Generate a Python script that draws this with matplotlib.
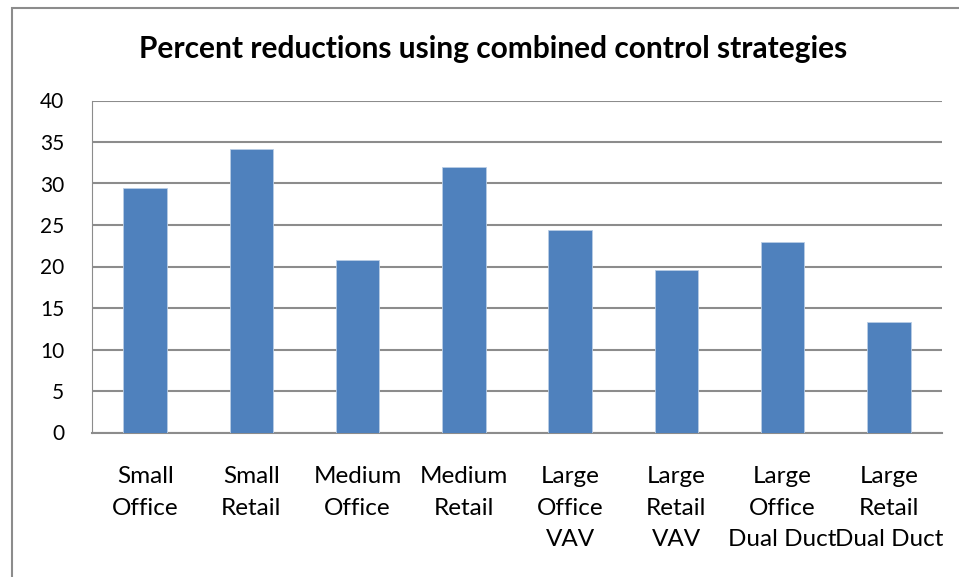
import matplotlib.pyplot as plt
from matplotlib.patches import Rectangle

# Data
categories = ["Small\nOffice", "Small\nRetail", "Medium\nOffice", "Medium\nRetail",
              "Large\nOffice\nVAV", "Large\nRetail\nVAV", "Large\nOffice\nDual Duct",
              "Large\nRetail\nDual Duct"]
reductions = [29.5, 34.1, 20.8, 32.0, 24.4, 19.6, 23.0, 13.3]
y_ticks = [0, 5, 10, 15, 20, 25, 30, 35, 40]

plt.rcParams['font.family'] = ['Lato', 'DejaVu Sans']

fig = plt.figure(figsize=(9.59, 5.77), dpi=100)
ax = fig.add_axes([92 / 959, 1 - 432.5 / 577, 850 / 959, 332 / 577])

# Outer chart border (only top and left visible in the crop)
fig.patches.append(Rectangle((12 / 959, -0.1), 1.2, 1 - 8 / 577 + 0.1,
                             transform=fig.transFigure, fill=False,
                             edgecolor='#8c8c8c', linewidth=1.5))

x = range(len(categories))
ax.bar(x, reductions, width=0.41, color='#4F81BD', edgecolor='#b9cde5',
       linewidth=0.6, zorder=3)

ax.set_xlim(-0.5, len(categories) - 0.5)
ax.set_ylim(0, 40)
ax.set_yticks(y_ticks)
ax.set_xticks(list(x))
ax.set_xticklabels(categories, fontsize=17.5, linespacing=1.63)
ax.tick_params(axis='both', length=0)
ax.tick_params(axis='y', labelsize=15, pad=20)
ax.tick_params(axis='x', pad=24)

ax.grid(axis='y', color='#8c8c8c', linewidth=1.5, zorder=0)
for side in ['top', 'right']:
    ax.spines[side].set_visible(False)
ax.spines['left'].set_color('#8c8c8c')
ax.spines['bottom'].set_color('#8c8c8c')
ax.spines['bottom'].set_linewidth(1.5)

fig.text(493 / 959, 1 - 49 / 577, "Percent reductions using combined control strategies",
         ha='center', va='center', fontsize=21.5, fontweight='bold')

fig.savefig("out.png", dpi=100)
